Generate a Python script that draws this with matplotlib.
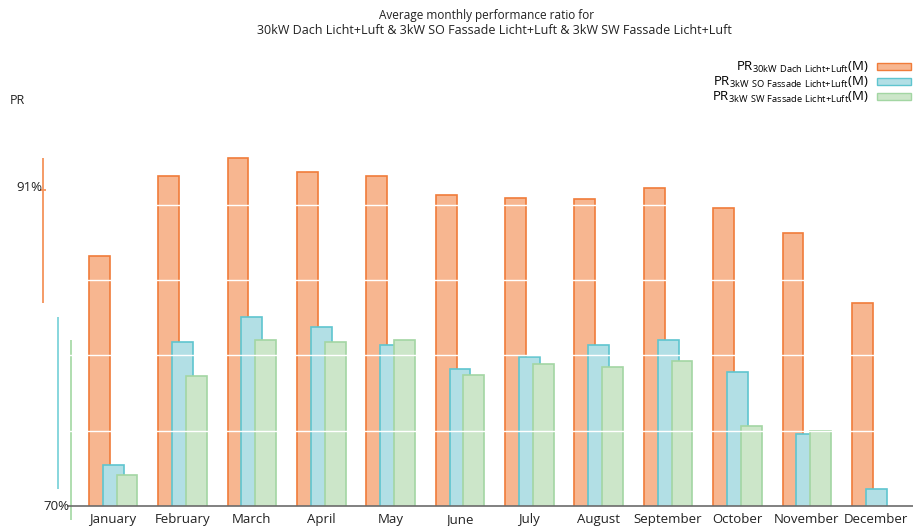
import numpy as np
import matplotlib.pyplot as plt
import matplotlib.transforms as mtransforms
from matplotlib.patches import Patch

plt.rcParams['font.family'] = ['Open Sans', 'DejaVu Sans']
plt.rcParams['mathtext.fontset'] = 'custom'
plt.rcParams['mathtext.rm'] = 'Open Sans'

months = ["January", "February", "March", "April", "May", "June", "July",
          "August", "September", "October", "November", "December"]
pr_dach = [86.6, 91.9, 93.1, 92.2, 91.9, 90.65, 90.45, 90.4, 91.1, 89.8, 88.1, 83.5]
pr_so = [72.7, 80.9, 82.55, 81.9, 80.7, 79.1, 79.9, 80.7, 81.0, 78.9, 74.8, 71.1]
pr_sw = [72.05, 78.6, 81.0, 80.9, 81.0, 78.7, 79.4, 79.2, 79.6, 75.3, 75.0, 69.1]
names = ["30kW Dach Licht+Luft", "3kW SO Fassade Licht+Luft", "3kW SW Fassade Licht+Luft"]

fills = ["#F7B690", "#B2DFE5", "#CCE6C9"]
edges = ["#F07C3A", "#5FC5CF", "#A3D6A3"]
ranges = ["#F4935A", "#7ED3DA", "#A9DBA9"]

fig = plt.figure(figsize=(9.13, 5.26), dpi=100)
ax = fig.add_axes([68 / 913, 20 / 526, 845 / 913, 361.4 / 526])

x = np.arange(len(months))
w = 0.30
for k, vals in enumerate([pr_dach, pr_so, pr_sw]):
    ax.bar(x + (k - 1) * 0.2, vals, w, color=fills[k], edgecolor=edges[k],
           linewidth=1.2, zorder=2 + k)

# white grid lines running across the bars
for g in [75, 80, 85, 90]:
    ax.axhline(g, color="white", lw=1, zorder=6)
ax.axhline(70, color="#6b6b6b", lw=1.2, zorder=7, clip_on=False)

ax.set_xlim(-0.65, 11.53)
ax.set_ylim(70, 94)

# min-max range bar for each series to the left of the plot
for k, (vals, xp) in enumerate(zip([pr_dach, pr_so, pr_sw], [-1.01, -0.79, -0.605])):
    ax.vlines(xp, min(vals), max(vals), color=ranges[k], lw=1.3, clip_on=False)
ax.hlines(91, -1.06, -0.96, color=ranges[0], lw=1.3, clip_on=False)

# y labels placed by hand, since they sit at different offsets
ax.set_yticks([])
trans = mtransforms.blended_transform_factory(fig.transFigure, ax.transData)
fig.text(69 / 913, 70, "70%", transform=trans, ha="right", va="center",
         fontsize=9.5, color="#222222")
fig.text(42 / 913, 91.15, "91%", transform=trans, ha="right", va="center",
         fontsize=9.5, color="#222222")

ax.set_xticks(x)
ax.set_xticklabels(months, fontsize=9.5, color="#222222")
ax.tick_params(axis="x", length=0, pad=5)
for s in ax.spines.values():
    s.set_visible(False)

fig.text(10 / 913, 1 - 100 / 526, "PR", fontsize=9, va="center", color="#222222")
fig.text(487 / 913, 1 - 16 / 526, "Average monthly performance ratio for", fontsize=8.5,
         ha="center", va="center", color="#222222")
fig.text(494 / 913, 1 - 31 / 526, " & ".join(names), fontsize=9,
         ha="center", va="center", color="#222222")

labels = [r"PR$_{\mathrm{" + n.replace(" ", r"\ ").replace("+", "{+}") + r"}}$(M)"
          for n in names]
handles = [Patch(facecolor=fills[k], edgecolor=edges[k]) for k in range(3)]
ax.legend(handles, labels, loc="upper right", bbox_to_anchor=(911 / 913, 1 - 60 / 526),
          bbox_transform=fig.transFigure, markerfirst=False, frameon=False,
          fontsize=9.5, handlelength=2.6, handleheight=0.5, labelspacing=0.0,
          handletextpad=0.6, borderaxespad=0, borderpad=0)

fig.savefig("out.png", dpi=100)
